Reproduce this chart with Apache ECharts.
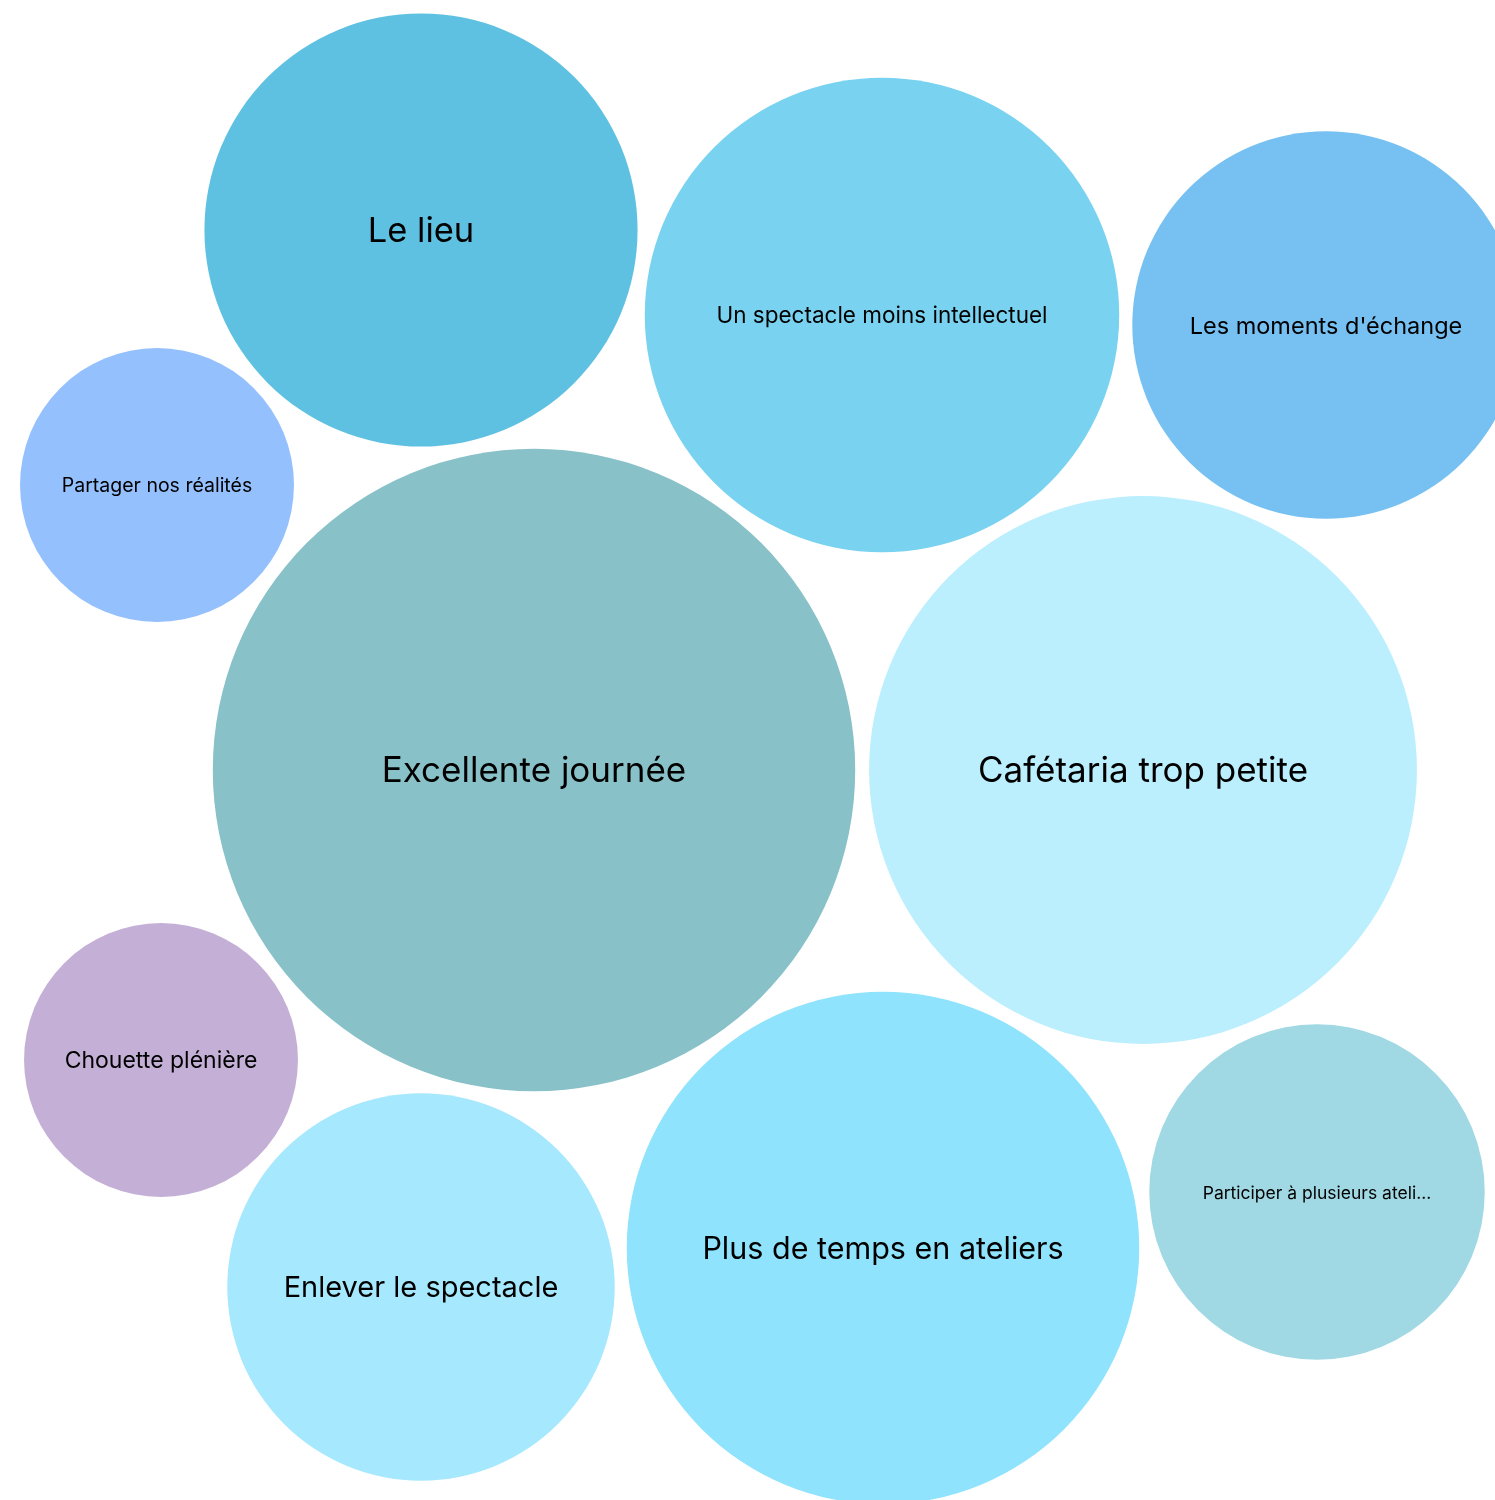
<!DOCTYPE html>
<html>
<head>
<meta charset="utf-8">
<script src="https://cdn.jsdelivr.net/npm/echarts@6/dist/echarts.min.js"></script>
<style>html,body{margin:0;padding:0;background:#fff}#c{width:1495px;height:1500px}</style>
</head>
<body>
<div id="c"></div>
<script>
// Data
var categories = ["Excellente journée","Cafétaria trop petite","Plus de temps en ateliers","Un spectacle moins intellectuel","Le lieu","Les moments d'échange","Enlever le spectacle","Participer à plusieurs ateliers","Partager nos réalités","Chouette plénière"];
var counts = [11, 8, 7, 6, 5, 4, 4, 3, 2, 2];
// packed-bubble layout (layout output read from picture, not data)
var layoutX = [534, 1143, 883, 882, 421, 1326, 421, 1317, 157, 161];
var layoutY = [770, 770, 1248, 315, 230, 325, 1287, 1192, 485, 1060];
// styles
var colors = ["#88c2c8","#bbeffe","#8fe3fc","#79d3f0","#5fc1e1","#76c1f2","#a6e8fd","#a0d9e3","#95c0fe","#c4b0d6"];
var fontSizes = [35, 35, 30.5, 22.5, 34.5, 23.5, 29, 17.5, 19.5, 23];

var sizeK = 193.7; // px per sqrt(count) diameter
var data = categories.map(function(n, i){
  return {
    name: n,
    value: [layoutX[i], layoutY[i], counts[i]],
    symbolSize: sizeK * Math.sqrt(counts[i]),
    itemStyle: {color: colors[i], opacity: 1},
    label: {fontSize: fontSizes[i], width: i === 7 ? 235 : null, overflow: i === 7 ? 'truncate' : 'none'}
  };
});
var chart = echarts.init(document.getElementById('c'));
chart.setOption({
  animation: false,
  grid: {left: 0, right: 0, top: 0, bottom: 0},
  xAxis: {type: 'value', min: 0, max: 1495, show: false},
  yAxis: {type: 'value', min: 0, max: 1500, inverse: true, show: false},
  series: [{
    type: 'scatter',
    clip: false,
    symbol: 'circle',
    data: data,
    itemStyle: {opacity: 1},
    label: {
      show: true,
      position: 'inside',
      offset: [0, 1.5],
      formatter: '{b}',
      color: '#000',
      fontFamily: 'Inter',
      ellipsis: '...'
    },
    emphasis: {disabled: true}
  }]
});
</script>
</body>
</html>
